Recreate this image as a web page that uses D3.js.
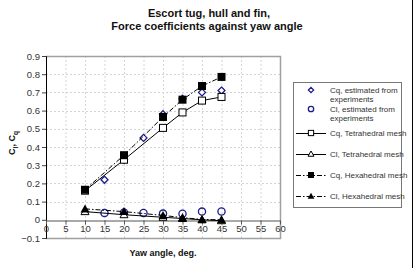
<!DOCTYPE html>
<html>
<head>
<meta charset="utf-8">
<script src="https://cdn.jsdelivr.net/npm/d3@7"></script>
<style>
  body { margin: 0; background: #fff; }
  svg { display: block; font-family: "Liberation Sans", Arial, sans-serif; }
</style>
</head>
<body>
<div id="chart"></div>
<script>
var svgWidth = 414;
var svgHeight = 268;

// Plot area box
var margin = { top: 56, left: 46 };
var chartWidth = 234;
var chartHeight = 182;

// Data
var angles = [10, 20, 30, 35, 40, 45];
var cqTet = [0.16, 0.33, 0.505, 0.59, 0.655, 0.675];
var clTet = [0.045, 0.028, 0.014, 0.007, 0.0, -0.005];
var cqHex = [0.165, 0.355, 0.565, 0.66, 0.735, 0.785];
var clHex = [0.06, 0.045, 0.024, 0.012, 0.002, 0.0];

var expAngles = [15, 20, 25, 30, 35, 40, 45];
var cqExp = [0.22, 0.33, 0.45, 0.58, 0.665, 0.70, 0.71];
var clExp = [0.038, 0.04, 0.037, 0.034, 0.033, 0.045, 0.046];

var xTicks = d3.range(0, 61, 5);
var yTicks = [-0.1, 0, 0.1, 0.2, 0.3, 0.4, 0.5, 0.6, 0.7, 0.8, 0.9];

var svg = d3.select("#chart")
  .append("svg")
  .attr("width", svgWidth)
  .attr("height", svgHeight);

var x = d3.scaleLinear().domain([0, 60]).range([margin.left, margin.left + chartWidth]);
var y = d3.scaleLinear().domain([-0.1, 0.9]).range([margin.top + chartHeight, margin.top]);

// outer frame edge on the right
svg.append("line")
  .attr("x1", 412.5).attr("x2", 412.5).attr("y1", 0).attr("y2", svgHeight)
  .attr("stroke", "#000").attr("stroke-width", 1);

// Title
var title = svg.append("text")
  .attr("text-anchor", "middle")
  .attr("font-weight", "bold")
  .attr("font-size", 11)
  .attr("fill", "#111");
title.append("tspan").attr("x", 209).attr("y", 17).text("Escort tug, hull and fin,");
title.append("tspan").attr("x", 207).attr("y", 30).text("Force coefficients against yaw angle");

// Gridlines
var grid = svg.append("g");
grid.selectAll(".vg")
  .data(xTicks.filter(d => d > 0 && d < 60))
  .enter().append("line")
  .attr("x1", d => x(d) + 0.5).attr("x2", d => x(d) + 0.5)
  .attr("y1", y(0.9)).attr("y2", y(-0.1))
  .attr("stroke", "#d4d4d4").attr("stroke-dasharray", "2,2");
grid.selectAll(".hg")
  .data(yTicks.filter(d => d > -0.1 && d < 0.85 && d !== 0))
  .enter().append("line")
  .attr("x1", x(0)).attr("x2", x(60))
  .attr("y1", d => Math.round(y(d)) + 0.5).attr("y2", d => Math.round(y(d)) + 0.5)
  .attr("stroke", "#d4d4d4").attr("stroke-dasharray", "2,2");

// Plot border (top, right, bottom)
svg.append("path")
  .attr("d", `M${x(0)},${y(0.9) + 0.5}H${x(60) + 0.5}V${y(-0.1) + 0.5}H${x(0)}`)
  .attr("fill", "none").attr("stroke", "#a0a0a0").attr("stroke-width", 1.5);

// Y axis
var leftAxis = d3.axisLeft(y).tickValues(yTicks).tickSize(4)
  .tickFormat(d => d === 0 ? "0" : d3.format(".1f")(d));
var yAxis = svg.append("g")
  .attr("transform", `translate(${x(0)},0)`)
  .call(leftAxis);
yAxis.select(".domain").attr("stroke", "#000");
yAxis.selectAll("line").attr("stroke", "#444");
yAxis.selectAll("text").attr("font-size", 9.5).attr("fill", "#333")
  .attr("font-family", "Liberation Sans, Arial, sans-serif").attr("x", -6);

// X axis at y = 0
var bottomAxis = d3.axisBottom(x).tickValues(xTicks).tickSize(4).tickSizeOuter(0);
var xAxis = svg.append("g")
  .attr("transform", `translate(0,${Math.round(y(0)) + 0.5})`)
  .call(bottomAxis);
xAxis.select(".domain").attr("stroke", "#555");
xAxis.selectAll("line").attr("stroke", "#555");
xAxis.selectAll("text").attr("font-size", 9.5).attr("fill", "#333")
  .attr("font-family", "Liberation Sans, Arial, sans-serif").attr("y", 5);

// Axis labels
var yLab = svg.append("text")
  .attr("transform", "translate(15,143) rotate(-90)")
  .attr("text-anchor", "middle")
  .attr("font-weight", "bold")
  .attr("font-size", 9)
  .attr("fill", "#111");
yLab.append("tspan").text("C");
yLab.append("tspan").attr("font-size", 6.5).attr("dy", 3).text("l");
yLab.append("tspan").attr("dy", -3).text(", C");
yLab.append("tspan").attr("font-size", 6.5).attr("dy", 3).text("q");

svg.append("text")
  .attr("x", 163).attr("y", 256)
  .attr("text-anchor", "middle")
  .attr("font-weight", "bold")
  .attr("font-size", 9)
  .attr("fill", "#111")
  .text("Yaw angle, deg.");

// Marker helpers
var blue = "#1c1c8a";
function marker(g, type, cx, cy, k) {
  k = k || 1;
  if (type === "diamond") {
    var a = 3.5 * k;
    g.append("path").attr("d", `M${cx},${cy - a}L${cx + a},${cy}L${cx},${cy + a}L${cx - a},${cy}Z`)
      .attr("fill", "#fff").attr("stroke", blue).attr("stroke-width", 1.3);
  } else if (type === "circle") {
    g.append("circle").attr("cx", cx).attr("cy", cy).attr("r", 3.6 * k)
      .attr("fill", "none").attr("stroke", blue).attr("stroke-width", 1.3);
  } else if (type === "sqOpen") {
    var s = 3.5 * k;
    g.append("rect").attr("x", cx - s).attr("y", cy - s).attr("width", 2 * s).attr("height", 2 * s)
      .attr("fill", "#fff").attr("stroke", "#000").attr("stroke-width", 1);
  } else if (type === "sqFill") {
    var f = 4 * k;
    g.append("rect").attr("x", cx - f).attr("y", cy - f).attr("width", 2 * f).attr("height", 2 * f)
      .attr("fill", "#000");
  } else if (type === "triOpen") {
    var t = 4 * k;
    g.append("path").attr("d", `M${cx},${cy - t}L${cx + t},${cy + 0.75 * t}L${cx - t},${cy + 0.75 * t}Z`)
      .attr("fill", "#fff").attr("stroke", "#000").attr("stroke-width", 1);
  } else if (type === "triFill") {
    var u = 4.5 * k;
    g.append("path").attr("d", `M${cx},${cy - u}L${cx + u},${cy + 0.78 * u}L${cx - u},${cy + 0.78 * u}Z`)
      .attr("fill", "#000");
  }
}

var series = [
  { xs: expAngles, ys: cqExp, m: "diamond", dash: "none" },
  { xs: expAngles, ys: clExp, m: "circle", dash: "none" },
  { xs: angles, ys: cqTet, m: "sqOpen", dash: null },
  { xs: angles, ys: clTet, m: "triOpen", dash: null },
  { xs: angles, ys: cqHex, m: "sqFill", dash: "5,2,1.5,2" },
  { xs: angles, ys: clHex, m: "triFill", dash: "5,2,1.5,2" }
];

var line = d3.line().x(d => x(d[0])).y(d => y(d[1]));
var plot = svg.append("g");

// each series: line then its markers, experiments first so meshes sit on top
series.forEach(function(s) {
  if (s.dash !== "none") {
    var pts = s.xs.map((v, i) => [v, s.ys[i]]);
    plot.append("path")
      .attr("d", line(pts))
      .attr("fill", "none")
      .attr("stroke", "#000")
      .attr("stroke-width", 1)
      .attr("stroke-dasharray", s.dash);
  }
  var g = plot.append("g");
  s.xs.forEach(function(v, i) { marker(g, s.m, x(v), y(s.ys[i])); });
});

// Legend
var legend = svg.append("g");
legend.append("rect")
  .attr("x", 293.5).attr("y", 82.5).attr("width", 108).attr("height", 125)
  .attr("fill", "#fff").attr("stroke", "#777").attr("stroke-width", 1);

var legendItems = [
  { lines: ["Cq, estimated from", "experiments"], m: "diamond", dash: "none", y: 90 },
  { lines: ["Cl, estimated from", "experiments"], m: "circle", dash: "none", y: 109 },
  { lines: ["Cq, Tetrahedral mesh"], m: "sqOpen", dash: null, y: 133 },
  { lines: ["Cl, Tetrahedral mesh"], m: "triOpen", dash: null, y: 154 },
  { lines: ["Cq, Hexahedral mesh"], m: "sqFill", dash: "5,2,1.5,2", y: 175 },
  { lines: ["Cl, Hexahedral mesh"], m: "triFill", dash: "5,2,1.5,2", y: 196 }
];
legendItems.forEach(function(it) {
  if (it.dash !== "none") {
    legend.append("line")
      .attr("x1", 296).attr("x2", 326).attr("y1", it.y + 0.5).attr("y2", it.y + 0.5)
      .attr("stroke", "#000").attr("stroke-dasharray", it.dash);
  }
  marker(legend, it.m, 311, it.y, 0.75);
  var t = legend.append("text")
    .attr("font-size", 8).attr("fill", "#333");
  it.lines.forEach(function(l, k) {
    t.append("tspan").attr("x", 330).attr("y", it.y + 3 + k * 8.5).text(l);
  });
});
</script>
</body>
</html>
